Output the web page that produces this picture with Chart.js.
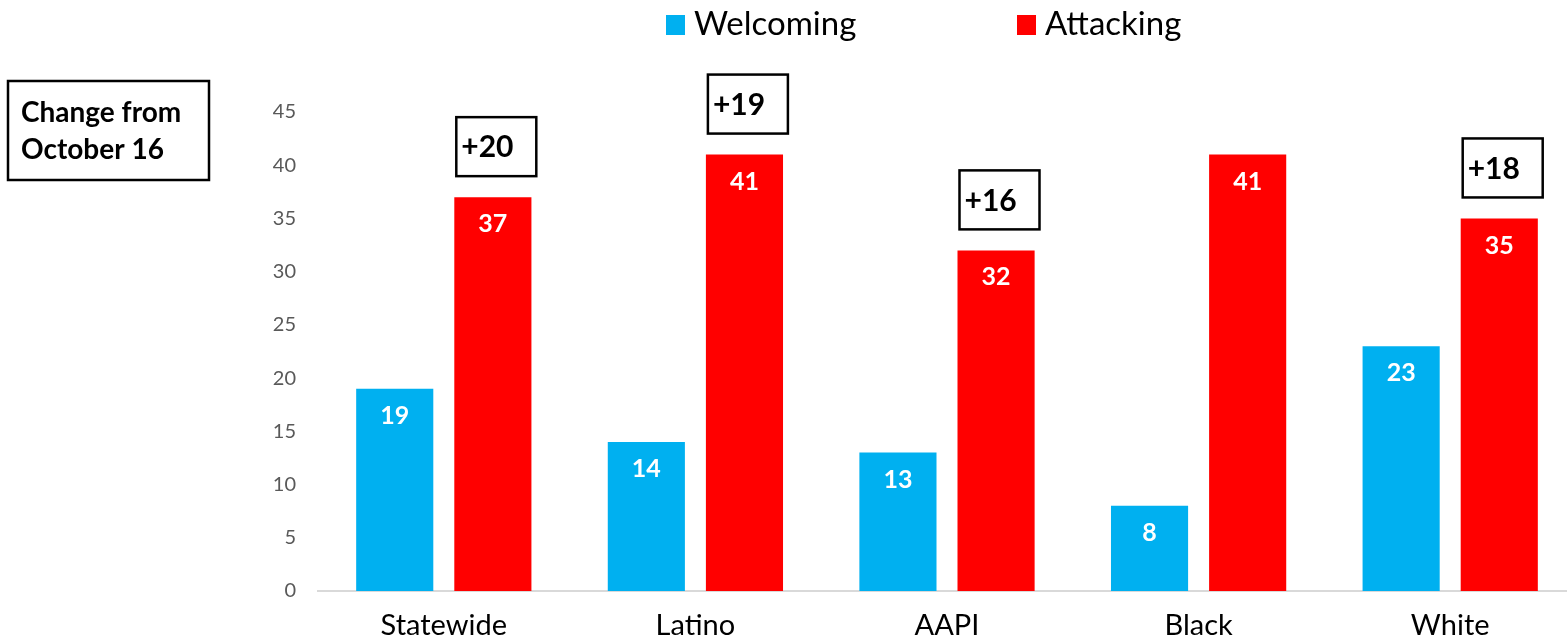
<!DOCTYPE html>
<html>
<head>
<meta charset="utf-8">
<script src="https://cdn.jsdelivr.net/npm/chart.js@4.4.1/dist/chart.umd.min.js"></script>
<style>
    html, body { margin: 0; padding: 0; background: #fff; overflow: hidden; }
    #wrap { position: relative; width: 1567px; height: 639px; overflow: hidden; }
    #box { position: absolute; left: 0; top: 0; width: 1576px; height: 639px; }
</style>
</head>
<body>
<div id="wrap">
    <div id="box"><canvas id="chart"></canvas></div>
</div>
<script>
const categories = ['Statewide', 'Latino', 'AAPI', 'Black', 'White'];
const welcoming = [19, 14, 13, 8, 23];
const attacking = [37, 41, 32, 41, 35];
// change in "Attacking" from October 16 (none shown for Black)
const changeFromOct16 = ['+20', '+19', '+16', null, '+18'];
const yTicks = [0, 5, 10, 15, 20, 25, 30, 35, 40, 45];
const noteLines = ['Change from', 'October 16'];

const FONT = 'Lato, "Noto Sans", sans-serif';
const BLUE = '#00B0F0';
const RED = '#FF0000';

// white numbers inside the top of each bar
const barValues = {
    id: 'barValues',
    afterDatasetsDraw(chart) {
        const ctx = chart.ctx;
        ctx.save();
        ctx.fillStyle = '#fff';
        ctx.font = 'bold 25px ' + FONT;
        ctx.textAlign = 'center';
        ctx.textBaseline = 'middle';
        chart.data.datasets.forEach((ds, di) => {
            chart.getDatasetMeta(di).data.forEach((bar, i) => {
                ctx.fillText(ds.data[i], bar.x, bar.y + 27);
            });
        });
        ctx.restore();
    }
};

// boxed "+NN" change labels above the red bars
const changeBoxes = {
    id: 'changeBoxes',
    afterDatasetsDraw(chart) {
        const ctx = chart.ctx;
        const meta = chart.getDatasetMeta(1);
        ctx.save();
        ctx.strokeStyle = '#000';
        ctx.lineWidth = 2.5;
        ctx.font = 'bold 30px ' + FONT;
        ctx.textAlign = 'left';
        ctx.textBaseline = 'middle';
        meta.data.forEach((bar, i) => {
            const txt = changeFromOct16[i];
            if (!txt) return;
            const w = 80, h = 59;
            const left = bar.x - bar.width / 2 + 2;
            const bottom = bar.y - 21;
            ctx.fillStyle = '#fff';
            ctx.fillRect(left, bottom - h, w, h);
            ctx.strokeRect(left, bottom - h, w, h);
            ctx.fillStyle = '#000';
            ctx.fillText(txt, left + 5, bottom - h / 2 + 1);
        });
        ctx.restore();
    }
};

// legend and the "Change from" note
const extras = {
    id: 'extras',
    afterDraw(chart) {
        const ctx = chart.ctx;
        ctx.save();
        ctx.textBaseline = 'middle';
        ctx.textAlign = 'left';
        ctx.font = '33px ' + FONT;
        const items = [
            { x: 666, color: BLUE, label: chart.data.datasets[0].label },
            { x: 1017, color: RED, label: chart.data.datasets[1].label }
        ];
        items.forEach(it => {
            ctx.fillStyle = it.color;
            ctx.fillRect(it.x, 15, 19, 20);
            ctx.fillStyle = '#000';
            ctx.fillText(it.label, it.x + 28, 24);
        });

        ctx.lineWidth = 2.5;
        ctx.strokeStyle = '#000';
        ctx.strokeRect(8, 81, 201, 99);
        ctx.font = 'bold 28px ' + FONT;
        ctx.textBaseline = 'alphabetic';
        ctx.fillText(noteLines[0], 21, 122);
        ctx.fillText(noteLines[1], 21, 159);
        ctx.restore();
    }
};

new Chart(document.getElementById('chart'), {
    type: 'bar',
    data: {
        labels: categories,
        datasets: [
            { label: 'Welcoming', data: welcoming, backgroundColor: BLUE },
            { label: 'Attacking', data: attacking, backgroundColor: RED }
        ]
    },
    options: {
        responsive: true,
        maintainAspectRatio: false,
        animation: false,
        categoryPercentage: 0.78,
        barPercentage: 0.786,
        layout: { padding: { top: 112, left: 0, right: 0, bottom: 0 } },
        plugins: {
            legend: { display: false },
            tooltip: { enabled: false }
        },
        scales: {
            x: {
                grid: { display: false, drawTicks: false },
                border: { display: true, color: '#d9d9d9', width: 2 },
                ticks: { color: '#000', font: { family: FONT, size: 29 }, padding: 17 },
                afterFit: (scale) => { scale.height = 48; }
            },
            y: {
                min: yTicks[0],
                max: yTicks[yTicks.length - 1],
                afterBuildTicks: (scale) => { scale.ticks = yTicks.map(v => ({ value: v })); },
                grid: { display: false, drawTicks: false },
                border: { display: false },
                ticks: { color: '#595959', font: { family: FONT, size: 20 }, padding: 22 },
                afterFit: (scale) => { scale.width = 318; }
            }
        }
    },
    plugins: [barValues, changeBoxes, extras]
});
</script>
</body>
</html>
